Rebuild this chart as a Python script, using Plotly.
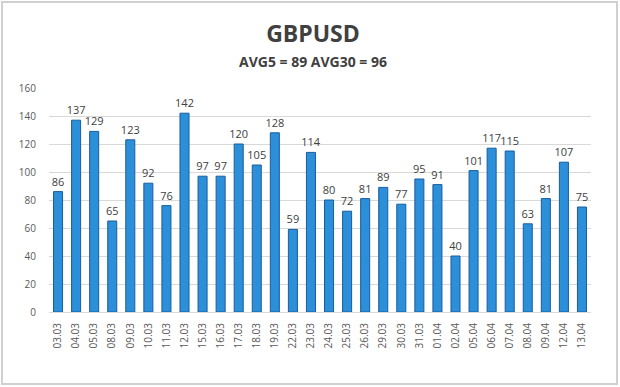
import plotly.graph_objects as go

dates = ["03.03", "04.03", "05.03", "08.03", "09.03", "10.03", "11.03", "12.03", "15.03", "16.03",
         "17.03", "18.03", "19.03", "22.03", "23.03", "24.03", "25.03", "26.03", "29.03", "30.03",
         "31.03", "01.04", "02.04", "05.04", "06.04", "07.04", "08.04", "09.04", "12.04", "13.04"]
values = [86, 137, 129, 65, 123, 92, 76, 142, 97, 97,
          120, 105, 128, 59, 114, 80, 72, 81, 89, 77,
          95, 91, 40, 101, 117, 115, 63, 81, 107, 75]
y_ticks = [0, 20, 40, 60, 80, 100, 120, 140, 160]

W, H = 620, 387
L, R, T, B = 49, 29, 88, 75

fig = go.Figure()
fig.add_trace(go.Bar(
    x=dates, y=values, text=[str(v) for v in values], textposition="outside",
    constraintext="none",
    textfont=dict(size=11, color="#404040", family="Open Sans"),
    marker=dict(color="#2b8fd9", line=dict(color="#1a5d9c", width=1)),
    width=0.5, cliponaxis=False, hoverinfo="skip",
))

pw, ph = W - L - R, H - T - B
fig.add_shape(type="rect", xref="paper", yref="paper",
              x0=-(L - 2) / pw, x1=1 + (R - 3) / pw,
              y0=-(B - 3) / ph, y1=1 + (T - 2) / ph,
              line=dict(color="#d0d0d0", width=2), layer="below")

fig.update_layout(
    width=W, height=H, margin=dict(l=L, r=R, t=T, b=B),
    paper_bgcolor="white", plot_bgcolor="white", showlegend=False,
    title=dict(text="<b>GBPUSD</b>", x=(313 - L) / pw * (pw / W) + L / W, xanchor="center",
               y=1 - 34 / H, yanchor="middle",
               font=dict(size=23, color="#404040", family="Open Sans")),
    annotations=[dict(text="<b>AVG5 = 89 AVG30 = 96</b>", xref="paper", yref="paper",
                      x=(313 - L) / pw, y=1 + (T - 62) / ph, xanchor="center", yanchor="middle",
                      showarrow=False, font=dict(size=14, color="#404040", family="Open Sans"))],
    xaxis=dict(tickangle=-90, tickfont=dict(size=10, color="#595959", family="Open Sans"),
               showgrid=False, showline=True, linecolor="#d9d9d9", ticks="", range=[-0.5, 29.5],
               ticklabelstandoff=6),
    yaxis=dict(range=[0, 160], tickvals=y_ticks, tickfont=dict(size=10, color="#595959", family="Open Sans"),
               gridcolor="#d9d9d9", zeroline=False, showline=False, ticks="", ticklabelstandoff=12),
)

fig.write_html("out.html", config={"displayModeBar": False},
               post_script="document.body.style.margin='0';")
